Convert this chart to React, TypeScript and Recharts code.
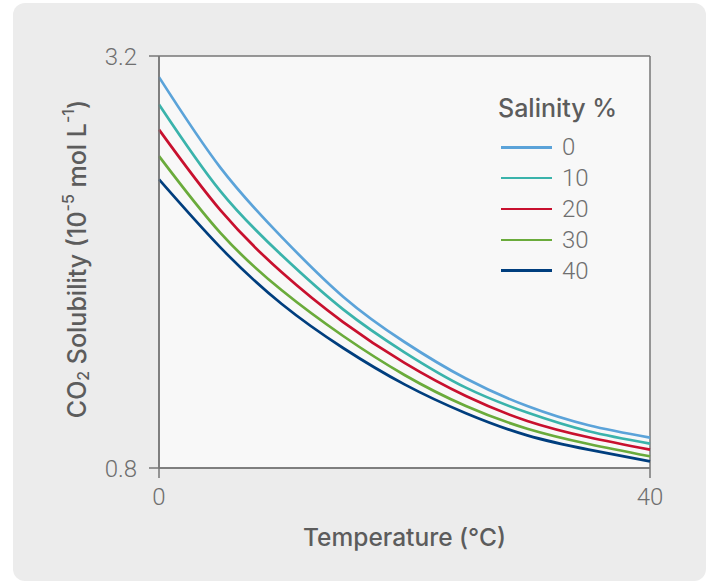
import React from "react";
import { LineChart, Line, XAxis, YAxis, CartesianGrid, Label } from "recharts";

// Temperature (°C) and CO2 solubility per salinity level
const temperatures = [0, 5, 10, 15, 20, 25, 30, 35, 40];
const salinity0 = [3.077, 2.55, 2.145, 1.798, 1.534, 1.321, 1.161, 1.049, 0.977];
const salinity10 = [2.918, 2.413, 2.039, 1.724, 1.474, 1.268, 1.123, 1.014, 0.942];
const salinity20 = [2.771, 2.302, 1.94, 1.65, 1.412, 1.219, 1.074, 0.979, 0.907];
const salinity30 = [2.617, 2.17, 1.835, 1.569, 1.342, 1.161, 1.029, 0.94, 0.868];
const salinity40 = [2.481, 2.085, 1.755, 1.499, 1.287, 1.119, 0.99, 0.907, 0.839];

const xTicks = [0, 40];
const yTicks = [0.8, 3.2];

const series = [
  { key: "s0", name: "0", values: salinity0, color: "#5ba3d9" },
  { key: "s10", name: "10", values: salinity10, color: "#3ab3ab" },
  { key: "s20", name: "20", values: salinity20, color: "#c8102e" },
  { key: "s30", name: "30", values: salinity30, color: "#6aab3b" },
  { key: "s40", name: "40", values: salinity40, color: "#003e7e" },
];

const data = temperatures.map((t, i) => {
  const row: Record<string, number> = { t };
  series.forEach((s) => (row[s.key] = s.values[i]));
  return row;
});

const FONT = "Roboto, 'Liberation Sans', Arial, sans-serif";
const TITLE_FONT = "Inter, 'Liberation Sans', Arial, sans-serif";
const TICK_COLOR = "#6f6f6f";
const TITLE_COLOR = "#5c5c5c";

// legend is an overlay so it doesn't eat into the plot margins
function SalinityLegend() {
  return (
    <div style={{ position: "absolute", left: 498, top: 94, fontFamily: FONT }}>
      <div
        style={{
          fontSize: 25,
          fontWeight: 500,
          fontFamily: TITLE_FONT,
          color: TITLE_COLOR,
          lineHeight: "28px",
          marginBottom: 10,
          whiteSpace: "nowrap",
        }}
      >
        Salinity %
      </div>
      {series.map((s) => (
        <div key={s.key} style={{ display: "flex", alignItems: "center", height: 30.8 }}>
          <div style={{ width: 51, height: 2.5, background: s.color, marginLeft: 3 }} />
          <span style={{ fontSize: 24, color: TICK_COLOR, marginLeft: 10, fontWeight: 300 }}>{s.name}</span>
        </div>
      ))}
    </div>
  );
}

function YTitle() {
  const cx = 77;
  const cy = 259;
  return (
    <text
      x={cx}
      y={cy}
      transform={`rotate(-90 ${cx} ${cy})`}
      textAnchor="middle"
      dominantBaseline="central"
      fill={TITLE_COLOR}
      fontFamily={TITLE_FONT}
      fontSize={25}
      fontWeight={500}
    >
      CO<tspan fontSize={16} dy={6}>2</tspan>
      <tspan dy={-6}> Solubility (10</tspan>
      <tspan fontSize={16} dy={-9}>-5</tspan>
      <tspan dy={9}> mol L</tspan>
      <tspan fontSize={16} dy={-9}>-1</tspan>
      <tspan dy={9}>)</tspan>
    </text>
  );
}

function XTitle() {
  return (
    <text
      x={404.5}
      y={537}
      textAnchor="middle"
      dominantBaseline="central"
      fill={TITLE_COLOR}
      fontFamily={TITLE_FONT}
      fontSize={24.5}
      fontWeight={500}
    >
      Temperature (°C)
    </text>
  );
}

export default function App() {
  return (
    <div style={{ position: "absolute", left: 0, top: 0, width: 710, height: 586, background: "#ffffff" }}>
      <div
        style={{
          position: "absolute",
          left: 13,
          top: 3,
          width: 693,
          height: 578,
          borderRadius: 12,
          background: "#ececec",
        }}
      />
      <div style={{ position: "absolute", left: 0, top: 0 }}>
        <LineChart width={710} height={586} data={data} margin={{ top: 56, right: 60, bottom: 88, left: 99 }}>
          <CartesianGrid fill="#f8f8f8" stroke="#777777" strokeWidth={1.5} />
          <XAxis
            dataKey="t"
            type="number"
            domain={[0, 40]}
            ticks={xTicks}
            height={30}
            stroke="#777777"
            strokeWidth={1.5}
            tickSize={10}
            tickMargin={10}
            tick={{ fill: TICK_COLOR, fontSize: 24, fontFamily: FONT, fontWeight: 300 }}
          >
            <Label content={<XTitle />} />
          </XAxis>
          <YAxis
            type="number"
            domain={[0.8, 3.2]}
            ticks={yTicks}
            width={60}
            stroke="#777777"
            strokeWidth={1.5}
            tickSize={10}
            tickMargin={12}
            tickFormatter={(v: number) => v.toFixed(1)}
            tick={{ fill: TICK_COLOR, fontSize: 24, fontFamily: FONT, fontWeight: 300 }}
          >
            <Label content={<YTitle />} />
          </YAxis>
          {series.map((s) => (
            <Line
              key={s.key}
              dataKey={s.key}
              name={s.name}
              type="natural"
              stroke={s.color}
              strokeWidth={2.7}
              dot={false}
              isAnimationActive={false}
            />
          ))}
        </LineChart>
      </div>
      <SalinityLegend />
    </div>
  );
}
